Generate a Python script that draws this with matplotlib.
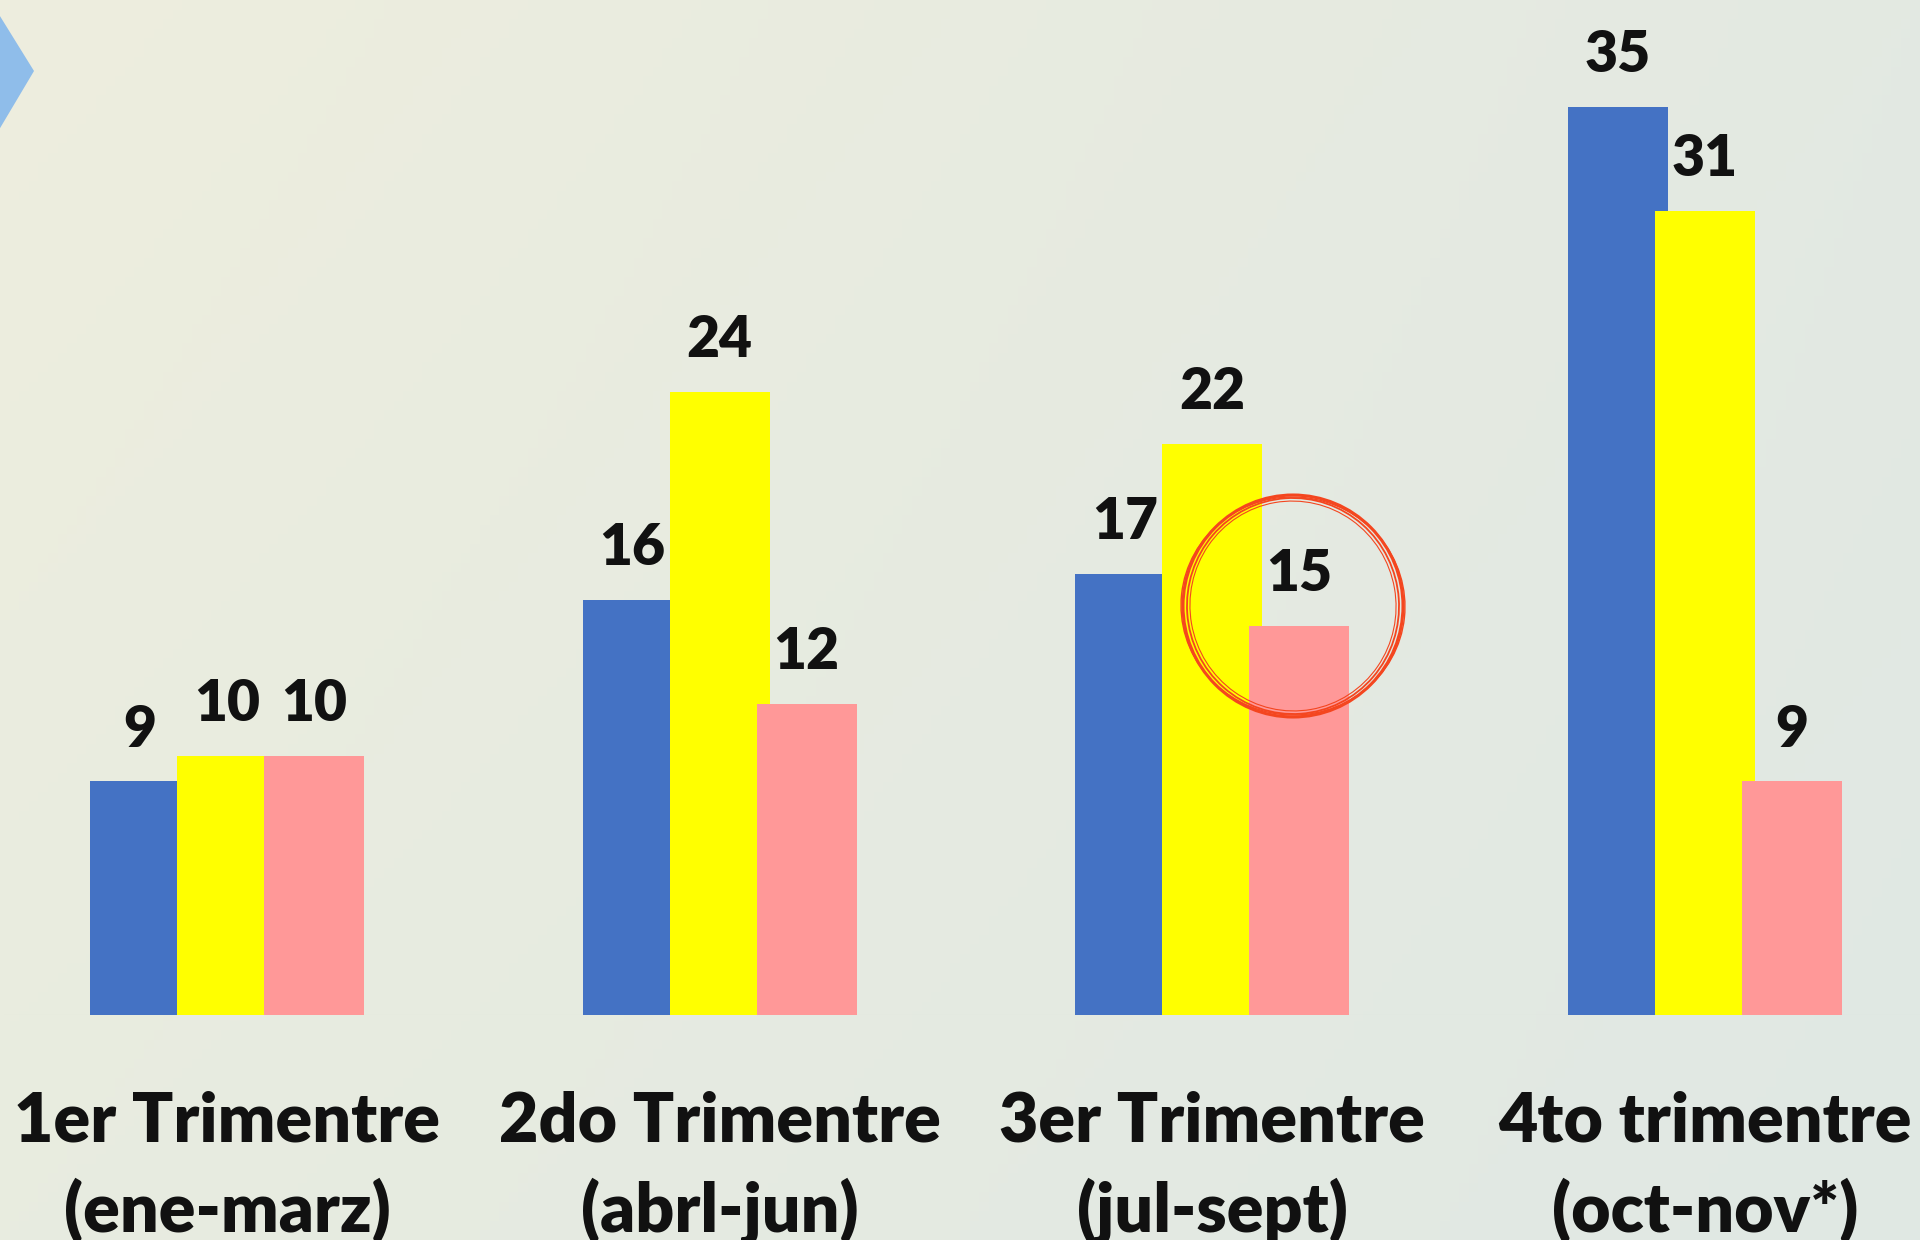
import numpy as np
import matplotlib
matplotlib.use("Agg")
import matplotlib.pyplot as plt
from matplotlib.patches import Polygon, Ellipse

# data
trimestres = ["1er Trimentre", "2do Trimentre", "3er Trimentre", "4to trimentre"]
periodos = ["(ene-marz)", "(abrl-jun)", "(jul-sept)", "(oct-nov*)"]
serie_azul = [9, 16, 17, 35]
serie_amarilla = [10, 24, 22, 31]
serie_rosa = [10, 12, 15, 9]

colores = ["#4472C4", "#FFFF00", "#FF9898"]
fuente = "Lato"

W, H = 19.2, 12.4
fig = plt.figure(figsize=(W, H), dpi=100)

# background gradient
bg = fig.add_axes([0, 0, 1, 1])
tl = np.array([238, 238, 222]) / 255
tr = np.array([227, 233, 226]) / 255
bl = np.array([232, 236, 224]) / 255
br = np.array([224, 232, 228]) / 255
u = np.linspace(0, 1, 200)[None, :, None]
v = np.linspace(0, 1, 130)[:, None, None]
img = (1 - v) * ((1 - u) * tl + u * tr) + v * ((1 - u) * bl + u * br)
bg.imshow(img, aspect="auto", extent=[0, 1, 0, 1], origin="upper")
bg.set_axis_off()

# chevron at top-left
fig.patches.append(Polygon([(-0.1, H - 0.0), (0.34, H - 0.71), (-0.1, H - 1.45)],
                           closed=True, facecolor="#8FBDEA", edgecolor="none",
                           transform=fig.dpi_scale_trans, zorder=2))

# main chart
base_px = 1015
px_unit = 25.95
ax = fig.add_axes([0, 1 - base_px / 1240, 1, base_px / 1240])
ax.patch.set_alpha(0)
x = np.arange(len(trimestres))
paso = 0.1766
ancho = 0.203
series = [serie_azul, serie_amarilla, serie_rosa]
for k, (vals, c) in enumerate(zip(series, colores)):
    xs = x + (k - 1) * paso
    ax.bar(xs, vals, width=ancho, color=c, edgecolor="none", zorder=3 + k)
    for xi, val in zip(xs, vals):
        ax.annotate(str(val), (xi, val), xytext=(0, 25), textcoords="offset points",
                    ha="center", va="baseline", fontsize=41, fontweight="heavy",
                    family=fuente, color="#111111", zorder=10)

ax.axhline(-0.07, xmin=7 / 1920, xmax=1, color="#D6D9D6", linewidth=2.9, zorder=2)

for xi, t1, t2 in zip(x, trimestres, periodos):
    ax.annotate(t1, (xi, 0), xytext=(0, -91), textcoords="offset points",
                ha="center", va="baseline", fontsize=49, fontweight="heavy",
                family=fuente, color="#111111", annotation_clip=False)
    ax.annotate(t2, (xi, 0), xytext=(0, -156), textcoords="offset points",
                ha="center", va="baseline", fontsize=49, fontweight="heavy",
                family=fuente, color="#111111", annotation_clip=False)

ax.set_xlim(-227 / 492.6, (1920 - 227) / 492.6)
ax.set_ylim(0, base_px / px_unit)
ax.set_axis_off()

# hand-drawn red circle around the 15
cx, cy = 12.93, H - 6.06
for w, h, lw, a in [(2.20, 2.22, 2.2, 0.0), (2.12, 2.16, 1.3, 4.0),
                    (2.24, 2.18, 1.0, -6.0), (2.06, 2.10, 0.8, 10.0)]:
    fig.patches.append(Ellipse((cx, cy), w, h, angle=a, fill=False,
                               edgecolor="#F4461F", linewidth=lw,
                               transform=fig.dpi_scale_trans, zorder=20))

fig.savefig("out.png", dpi=100)
